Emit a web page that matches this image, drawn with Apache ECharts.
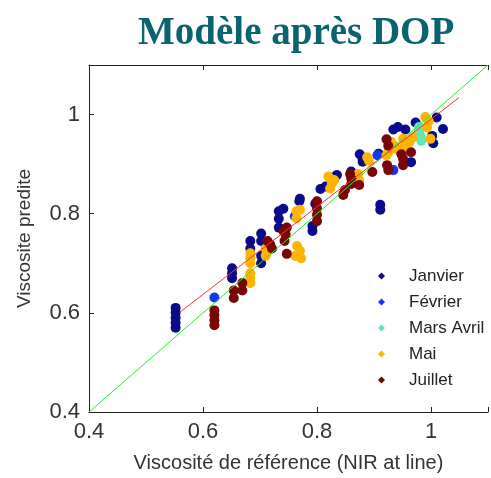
<!DOCTYPE html>
<html>
<head>
<meta charset="utf-8">
<script src="https://cdn.jsdelivr.net/npm/echarts@6/dist/echarts.min.js"></script>
<style>html,body{margin:0;padding:0;background:#fff;}#c{width:491px;height:478px;}</style>
</head>
<body>
<div id="c"></div>
<script>
var seriesNames = ['Janvier', 'Février', 'Mars Avril', 'Mai', 'Juillet'];
var seriesColors = ['#0a0a8c', '#1438f0', '#5ee8b5', '#ffb400', '#7a0505'];

var janvier = [
  [0.552,0.57],[0.552,0.58],[0.552,0.59],[0.552,0.60],[0.552,0.61],
  [0.651,0.69],[0.651,0.68],[0.651,0.67],
  [0.683,0.745],[0.683,0.73],
  [0.702,0.76],[0.702,0.745],[0.702,0.715],[0.702,0.70],
  [0.733,0.805],[0.741,0.81],[0.733,0.79],[0.733,0.772],
  [0.769,0.825],[0.77,0.83],
  [0.792,0.775],[0.792,0.765],
  [0.797,0.82],[0.806,0.85],[0.815,0.855],[0.832,0.875],[0.835,0.878],
  [0.86,0.885],[0.875,0.92],[0.88,0.911],[0.88,0.905],
  [0.908,0.921],[0.911,0.818],[0.911,0.808],
  [0.934,0.97],[0.942,0.975],[0.955,0.97],[0.965,0.904],[0.973,0.984],
  [1.002,0.957],[1.004,0.942],[1.01,0.994],[1.021,0.971]
];
var fevrier = [
  [0.62,0.631],[0.761,0.795],[0.906,0.918],[0.934,0.888]
];
var marsAvril = [
  [0.979,0.975],[0.979,0.968],[0.98,0.961],[0.982,0.953],[0.983,0.947]
];
var mai = [
  [0.683,0.66],[0.683,0.67],[0.683,0.68],[0.683,0.70],[0.683,0.71],[0.683,0.72],
  [0.71,0.73],[0.71,0.715],[0.712,0.722],
  [0.765,0.735],[0.77,0.725],[0.762,0.715],[0.772,0.71],
  [0.764,0.805],[0.764,0.791],[0.77,0.808],
  [0.82,0.875],[0.823,0.851],[0.826,0.861],[0.83,0.868],
  [0.872,0.88],[0.874,0.868],
  [0.891,0.907],[0.888,0.914],
  [0.922,0.918],[0.925,0.925],[0.93,0.945],[0.936,0.937],[0.94,0.93],[0.951,0.951],
  [0.953,0.934],[0.962,0.944],[0.968,0.954],
  [0.99,0.995],[0.996,0.987],[0.993,0.974],[0.999,0.951]
];
var juillet = [
  [0.62,0.605],[0.62,0.595],[0.62,0.585],[0.62,0.575],
  [0.654,0.645],[0.654,0.63],
  [0.669,0.66],[0.669,0.645],
  [0.713,0.745],[0.718,0.738],[0.721,0.73],
  [0.741,0.765],[0.747,0.772],[0.745,0.758],[0.743,0.745],[0.747,0.719],
  [0.80,0.825],[0.80,0.811],[0.80,0.798],[0.80,0.785],
  [0.846,0.838],[0.849,0.848],
  [0.858,0.88],[0.86,0.871],[0.86,0.86],[0.874,0.858],[0.897,0.884],
  [0.922,0.95],[0.925,0.937],[0.923,0.898],[0.925,0.888],
  [0.948,0.92],[0.951,0.911],[0.951,0.898],[0.965,0.924]
];
var identityLine = [[0.4,0.4],[1.1,1.1]];
var fitLine = [[0.559,0.601],[1.049,1.034]];
var tickValues = [0.4, 0.6, 0.8, 1];

var allData = [janvier, fevrier, marsAvril, mai, juillet];

function tickFmt(v) {
  for (var i = 0; i < tickValues.length; i++) {
    if (Math.abs(v - tickValues[i]) < 1e-6) return String(tickValues[i]);
  }
  return '';
}

var axisCommon = {
  min: 0.4, max: 1.1, interval: 0.2,
  axisLine: { show: true, lineStyle: { color: '#222', width: 1 } },
  axisTick: { show: true, inside: true, length: 5, lineStyle: { color: '#222' } },
  splitLine: { show: false }
};

var series = [];
for (var i = 0; i < seriesNames.length; i++) {
  series.push({
    name: seriesNames[i],
    type: 'scatter',
    xAxisIndex: 0, yAxisIndex: 0,
    symbol: 'circle',
    symbolSize: 10,
    itemStyle: { color: seriesColors[i], opacity: 1 },
    data: allData[i],
    z: 3
  });
}
series.push({
  type: 'line', data: identityLine, symbol: 'none', silent: true,
  lineStyle: { color: '#22ee22', width: 1 }, z: 4
});
series.push({
  type: 'line', data: fitLine, symbol: 'none', silent: true,
  lineStyle: { color: '#ff3030', width: 1 }, z: 4
});

var chart = echarts.init(document.getElementById('c'), null, { renderer: 'canvas' });
chart.setOption({
  animation: false,
  backgroundColor: '#ffffff',
  title: {
    text: 'Modèle après DOP',
    left: 133, top: 9,
    textStyle: { fontFamily: 'Liberation Serif', fontWeight: 'bold', fontSize: 39, color: '#0a6470' }
  },
  legend: {
    data: seriesNames,
    orient: 'vertical',
    left: 373, top: 261,
    icon: 'diamond',
    itemWidth: 7, itemHeight: 7,
    itemGap: 6,
    textStyle: { fontFamily: 'Liberation Sans', fontSize: 17, color: '#222', padding: [0, 0, 0, 19], lineHeight: 20 }
  },
  grid: { left: 89, top: 65, right: -10, bottom: 61 },
  xAxis: [
    Object.assign({}, axisCommon, {
      type: 'value', position: 'bottom',
      name: 'Viscosité de référence (NIR at line)',
      nameLocation: 'middle', nameGap: 41,
      nameTextStyle: { fontFamily: 'Liberation Sans', fontSize: 20, color: '#333' },
      axisLabel: { formatter: tickFmt, fontFamily: 'Liberation Sans', fontSize: 22, color: '#333', margin: 9 }
    }),
    Object.assign({}, axisCommon, {
      type: 'value', position: 'top', axisLabel: { show: false }
    })
  ],
  yAxis: [
    Object.assign({}, axisCommon, {
      type: 'value', position: 'left',
      name: 'Viscosite predite',
      nameLocation: 'middle', nameGap: 55, nameRotate: 90,
      nameTextStyle: { fontFamily: 'Liberation Sans', fontSize: 19, color: '#333' },
      axisLabel: { formatter: tickFmt, fontFamily: 'Liberation Sans', fontSize: 22, color: '#333', margin: 9 }
    })
  ],
  series: series
});
</script>
</body>
</html>
